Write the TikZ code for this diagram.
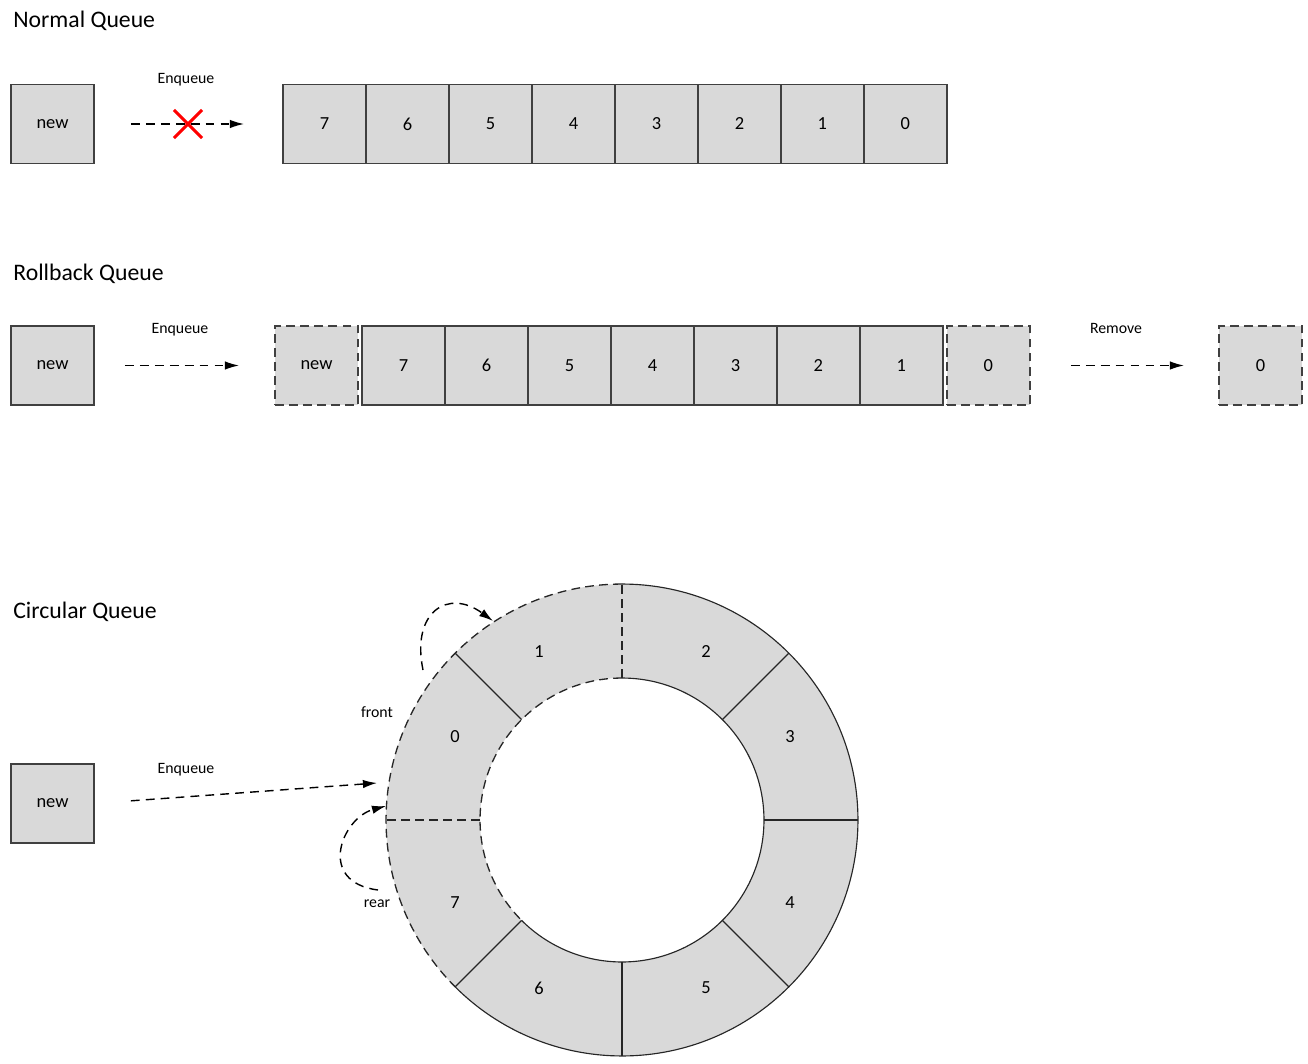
\documentclass[tikz,border=0pt]{standalone}
\usepackage{fontspec}
\setmainfont{Carlito}
\usetikzlibrary{arrows.meta,positioning,shapes.misc}
\definecolor{qfill}{RGB}{217,217,217}
\definecolor{qline}{RGB}{64,64,64}
\definecolor{qred}{RGB}{255,0,0}
\tikzset{
  cell/.style={draw=qline,fill=qfill,line width=0.75pt,minimum width=1.66cm,
    minimum height=1.58cm,inner sep=0pt,outer sep=0pt,font=\fontsize{10.5}{12}\selectfont},
  ghostcell/.style={cell,dash pattern=on 5pt off 3pt},
  title/.style={anchor=west,inner sep=0pt,font=\fontsize{13.5}{16}\selectfont},
  lbl/.style={inner sep=1pt,font=\fontsize{9}{11}\selectfont},
  num/.style={inner sep=0pt,font=\fontsize{10.5}{12}\selectfont},
  flow/.style={-{Latex[length=8pt,width=4.8pt]},line width=0.8pt,dash pattern=on 5pt off 3.5pt},
  ringline/.style={line width=0.65pt,black!85},
  ringdash/.style={ringline,line width=0.75pt,dash pattern=on 5pt off 3pt}
}
\begin{document}
\begin{tikzpicture}[x=0.02cm,y=0.02cm]
  \useasboundingbox (0,0) rectangle (1308,-1064);
  % Normal queue
  \node[title] (tnormal) at (13,-21) {Normal Queue};
  \node[cell] (nnew) at (52.5,-124) {new};
  \node[cell] (n7) at (324.5,-124) {7};
  \foreach \v [remember=\v as \p (initially 7)] in {6,...,0}
    \node[cell,right=0pt of n\p] (n\v) {\v};
  \node[lbl] (nenq) at (186,-80) {Enqueue};
  \draw[flow,shorten <=0.74cm,shorten >=0.78cm] (nnew) -- (n7);
  \node[cross out,draw=qred,line width=1.8pt,minimum size=0.5cm,inner sep=0pt] (nstop) at (188,-124) {};

  % Rollback queue
  \node[title] (troll) at (13,-274) {Rollback Queue};
  \node[cell] (rnew) at (52.5,-365.5) {new};
  \node[ghostcell] (rin) at (316.5,-365.5) {new};
  \node[cell,right=0.08cm of rin] (r7) {7};
  \foreach \v [remember=\v as \p (initially 7)] in {6,...,1}
    \node[cell,right=0pt of r\p] (r\v) {\v};
  \node[ghostcell,right=0.08cm of r1] (r0) {0};
  \node[ghostcell] (rout) at (1260.5,-365.5) {0};
  \node[lbl] (renq) at (180,-330) {Enqueue};
  \node[lbl] (rrem) at (1116,-328) {Remove};
  \draw[flow,shorten <=0.62cm,shorten >=0.72cm] (rnew) -- (rin);
  \draw[flow,shorten <=0.82cm,shorten >=0.7cm] (r0) -- (rout);

  % Circular queue
  \node[title] (tcirc) at (13,-612) {Circular Queue};
  \node[cell] (cnew) at (52.5,-803.5) {new};
  \coordinate (ctr) at (622,-820);
  \fill[qfill,even odd rule] (ctr) circle[radius=4.72cm] (ctr) circle[radius=2.84cm];
  \draw[ringline] ([shift={(90:4.72cm)}]ctr) arc[start angle=90,end angle=-135,radius=4.72cm];
  \draw[ringline] ([shift={(90:2.84cm)}]ctr) arc[start angle=90,end angle=-135,radius=2.84cm];
  \draw[ringdash] ([shift={(90:4.72cm)}]ctr) arc[start angle=90,end angle=225,radius=4.72cm];
  \draw[ringdash] ([shift={(90:2.84cm)}]ctr) arc[start angle=90,end angle=225,radius=2.84cm];
  \foreach \a in {45,0,-45,-90,-135,135}
    \draw[ringline] ([shift={(\a:2.84cm)}]ctr) -- ([shift={(\a:4.72cm)}]ctr);
  \foreach \a in {90,180}
    \draw[ringdash] ([shift={(\a:2.84cm)}]ctr) -- ([shift={(\a:4.72cm)}]ctr);
  \foreach \v/\dx/\dy in {0/-167/83,1/-83/168,2/84/168,3/168/83,4/168/-83,5/84/-168,6/-83/-168,7/-167/-83}
    \node[num] (c\v) at ([shift={(\dx,\dy)}]ctr) {\v};
  \node[lbl] (cenq) at (186,-770) {Enqueue};
  \node[lbl] (cfront) at (377,-712) {front};
  \node[lbl] (crear) at (377,-904) {rear};
  \coordinate (frontin) at (377,-783);
  \coordinate (frontfrom) at (423,-670);
  \coordinate (frontto) at (493,-621);
  \coordinate (rearfrom) at (378,-890);
  \coordinate (rearto) at (386,-806);
  \draw[flow,shorten <=0.74cm] (cnew.east) -- (frontin);
  \draw[flow] (frontfrom) .. controls (411,-612) and (448,-588) .. (frontto);
  \draw[flow] (rearfrom) .. controls (316,-882) and (342,-818) .. (rearto);
\end{tikzpicture}
\end{document}
